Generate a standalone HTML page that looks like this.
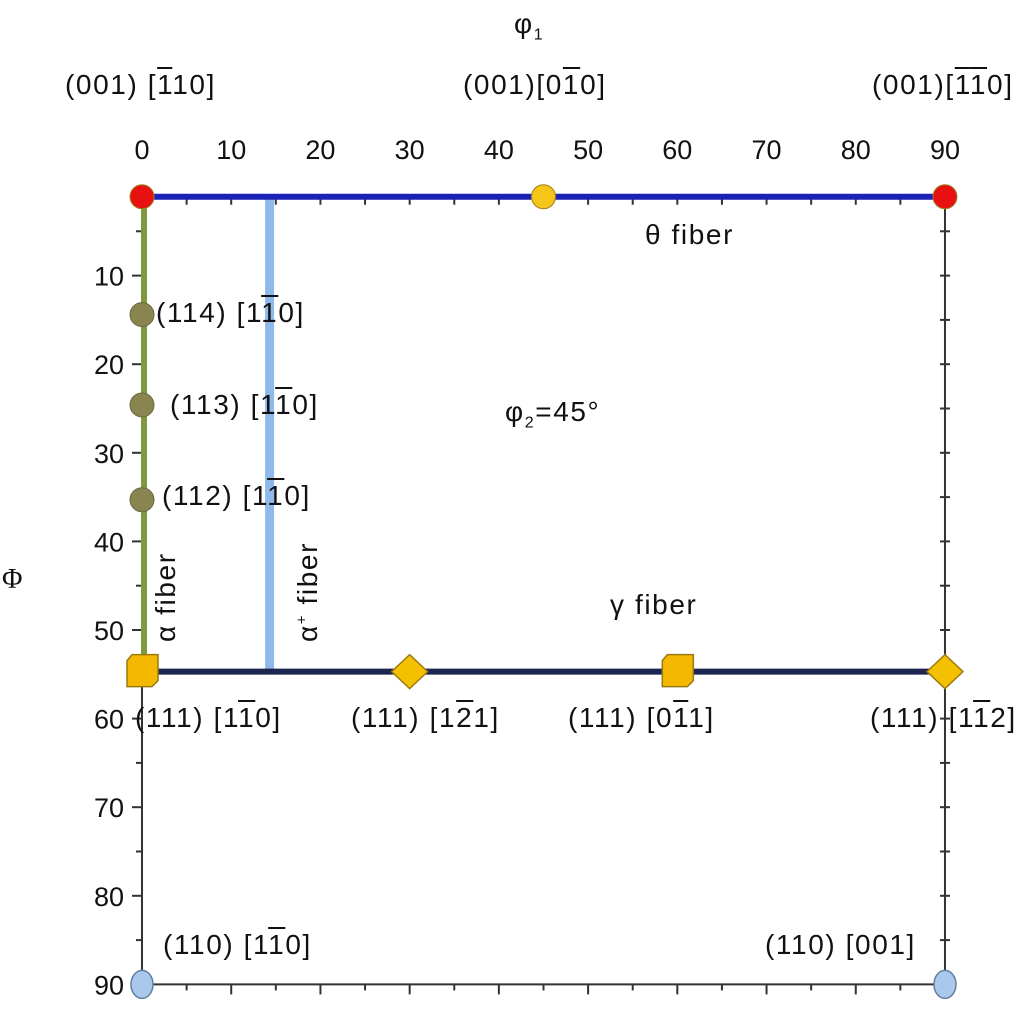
<!DOCTYPE html>
<html><head><meta charset="utf-8">
<style>
body{margin:0;background:#fff;}
#wrap{position:relative;width:1024px;height:1009px;overflow:hidden;font-family:"Liberation Sans",sans-serif;color:#111;}
.lb{position:absolute;font-size:28px;letter-spacing:1.6px;white-space:nowrap;line-height:1;}
.ob{text-decoration:overline;}
svg{position:absolute;left:0;top:0;}
</style></head>
<body>
<div id="wrap">
<svg id="chart" width="1024" height="1009"></svg>

<div class="lb" style="left:514px;top:10px">φ<sub style="font-size:16px">1</sub></div>
<div class="lb" style="left:65px;top:71px">(001) [<span class="ob">1</span>10]</div>
<div class="lb" style="left:463px;top:71px">(001)[0<span class="ob">1</span>0]</div>
<div class="lb" style="left:872px;top:71px">(001)[<span class="ob">1</span><span class="ob">1</span>0]</div>
<div class="lb" style="left:2px;top:566px;font-family:'Liberation Serif',serif;font-size:28px">Φ</div>
<div class="lb" style="left:645px;top:221px">θ fiber</div>
<div class="lb" style="left:505px;top:398px">φ<sub style="font-size:16px">2</sub>=45°</div>
<div class="lb" style="left:610px;top:591px">γ fiber</div>
<div class="lb" style="left:152px;top:642px;transform:rotate(-90deg);transform-origin:0 0">α fiber</div>
<div class="lb" style="left:294px;top:642px;transform:rotate(-90deg);transform-origin:0 0">α<sup style="font-size:15px">+</sup> fiber</div>
<div class="lb" style="left:156px;top:299px">(114) [1<span class="ob">1</span>0]</div>
<div class="lb" style="left:170px;top:391px">(113) [1<span class="ob">1</span>0]</div>
<div class="lb" style="left:162px;top:482px">(112) [1<span class="ob">1</span>0]</div>
<div class="lb" style="left:135px;top:704px">(111) [1<span class="ob">1</span>0]</div>
<div class="lb" style="left:351px;top:704px">(111) [1<span class="ob">2</span>1]</div>
<div class="lb" style="left:568px;top:704px">(111) [0<span class="ob">1</span>1]</div>
<div class="lb" style="left:870px;top:704px">(111) [1<span class="ob">1</span>2]</div>
<div class="lb" style="left:163px;top:931px">(110) [1<span class="ob">1</span>0]</div>
<div class="lb" style="left:765px;top:931px">(110) [001]</div>
</div>
<script>
const xTicks=[0,10,20,30,40,50,60,70,80,90];
const yTicks=[10,20,30,40,50,60,70,80,90];
const thetaPhi=[1.1];
const gammaPhi=[54.7];
const alphaPlusPhi1=[14.3];
const circlePts=[[0,1.1,'#e81010'],[45,1.1,'#f5c518'],[90,1.1,'#e81010']];
const alphaPts=[[0,14.4],[0,24.6],[0,35.3]];
const cubePts=[[0,54.7],[60,54.7]];
const diamondPts=[[30,54.7],[90,54.7]];
const bluePts=[[0,90],[90,90]];

const svg=document.getElementById('chart');
const NS='http://www.w3.org/2000/svg';
const X=v=>142+v*8.922;
const Y=v=>187+v*8.86;
function mk(t,a){const e=document.createElementNS(NS,t);for(const k in a)e.setAttribute(k,a[k]);svg.appendChild(e);return e;}

let e;
e=mk('line',{x1:X(0),y1:Y(thetaPhi[0]),x2:X(0),y2:Y(90),stroke:'#333',"stroke-width":2});

e=mk('line',{x1:X(90),y1:Y(thetaPhi[0]),x2:X(90),y2:Y(90),stroke:'#333',"stroke-width":2});

e=mk('line',{x1:X(0),y1:Y(90),x2:X(90),y2:Y(90),stroke:'#333',"stroke-width":2});

for(let v=5;v<90;v+=5){
  const l=v%10===0?10:6;
  e=mk('line',{x1:X(0)-l,y1:Y(v),x2:X(0),y2:Y(v),stroke:'#333',"stroke-width":2});
  
  e=mk('line',{x1:X(90)-5,y1:Y(v),x2:X(90)+5,y2:Y(v),stroke:'#333',"stroke-width":2});
  
  e=mk('line',{x1:X(v),y1:Y(90),x2:X(v),y2:Y(90)+l,stroke:'#333',"stroke-width":2});
  
  e=mk('line',{x1:X(v),y1:Y(thetaPhi[0]),x2:X(v),y2:Y(thetaPhi[0])+8,stroke:'#333',"stroke-width":2});
  
}
xTicks.forEach(v=>{e=mk('text',{x:X(v),y:159,"text-anchor":"middle","font-size":27,"font-family":"Liberation Sans,sans-serif",fill:'#111'});e.textContent=v;
});
yTicks.forEach(v=>{e=mk('text',{x:124,y:Y(v)+10,"text-anchor":"end","font-size":27,"font-family":"Liberation Sans,sans-serif",fill:'#111'});e.textContent=v;
});

e=mk('line',{x1:X(alphaPlusPhi1[0]),y1:Y(thetaPhi[0]),x2:X(alphaPlusPhi1[0]),y2:Y(gammaPhi[0]),stroke:'#8fb9ea',"stroke-width":9});

e=mk('line',{x1:X(0)+2,y1:Y(thetaPhi[0]),x2:X(0)+2,y2:Y(gammaPhi[0]),stroke:'#7f9a3e',"stroke-width":6});

e=mk('line',{x1:X(0),y1:Y(thetaPhi[0]),x2:X(90),y2:Y(thetaPhi[0]),stroke:'#1a22b8',"stroke-width":6});

e=mk('line',{x1:X(0),y1:Y(gammaPhi[0]),x2:X(90),y2:Y(gammaPhi[0]),stroke:'#1b2550',"stroke-width":6});


circlePts.forEach(p=>{e=mk('circle',{cx:X(p[0]),cy:Y(p[1]),r:12,fill:p[2],stroke:'#a08020',"stroke-width":1});
});
alphaPts.forEach(p=>{e=mk('circle',{cx:X(p[0]),cy:Y(p[1]),r:12,fill:'#8a8450',stroke:'#6a6a40',"stroke-width":1});
});
cubePts.forEach(p=>{const x=X(p[0]),y=Y(p[1]);
e=mk('polygon',{points:`${x-15},${y-11} ${x-10},${y-17} ${x+16},${y-17} ${x+16},${y+9} ${x+10},${y+15} ${x-15},${y+15}`,fill:'#f5b800',stroke:'#9a7a10',"stroke-width":1.5});
});
diamondPts.forEach(p=>{const x=X(p[0]),y=Y(p[1]);
e=mk('polygon',{points:`${x},${y-17} ${x+18},${y} ${x},${y+17} ${x-18},${y}`,fill:'#f5c000',stroke:'#9a7a10',"stroke-width":1.5});
});
bluePts.forEach(p=>{e=mk('ellipse',{cx:X(p[0]),cy:Y(p[1]),rx:11,ry:14,fill:'#a9c8ec',stroke:'#6080a0',"stroke-width":1.5});
});
</script>
</body></html>
